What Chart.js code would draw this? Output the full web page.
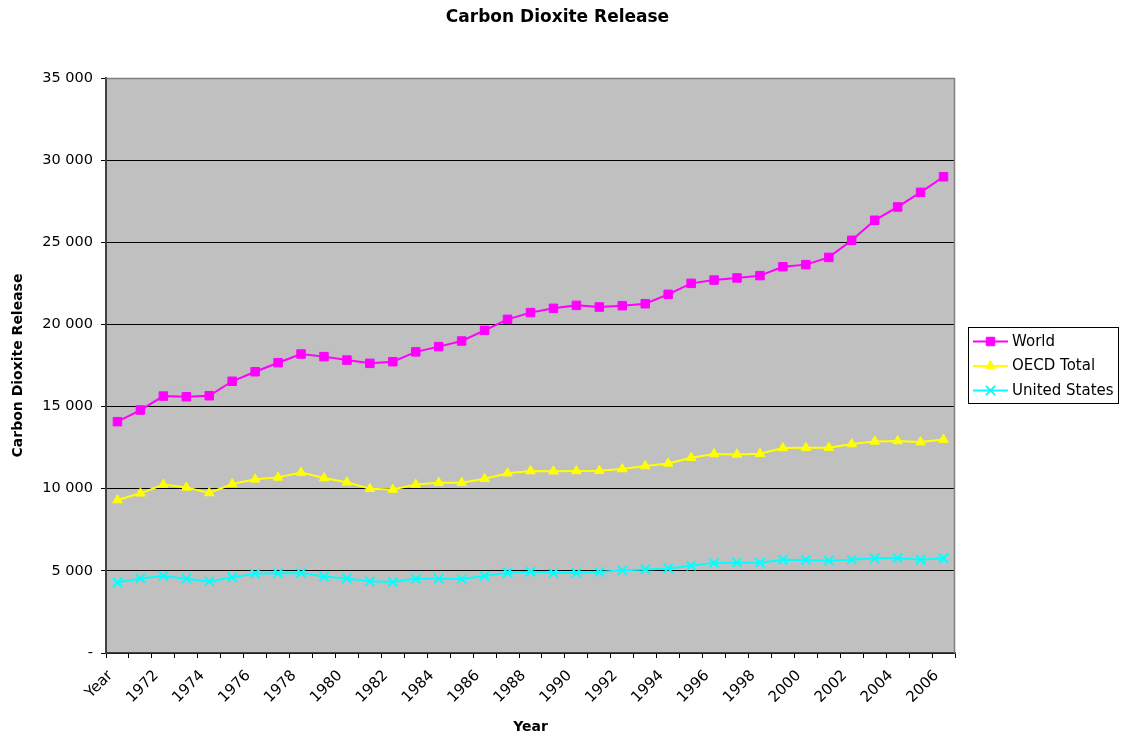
<!DOCTYPE html>
<html>
<head>
<meta charset="utf-8">
<title>Carbon Dioxite Release</title>
<script src="https://cdn.jsdelivr.net/npm/chart.js@4.4.1/dist/chart.umd.min.js"></script>
<style>
  html, body { margin: 0; padding: 0; background: #ffffff; }
  #wrap { width: 1122px; height: 740px; position: relative; }
</style>
</head>
<body>
<div id="wrap"><canvas id="c" width="1122" height="740"></canvas></div>
<script>
// Categories along the x axis
const categories = ['Year', '1971', '1972', '1973', '1974', '1975', '1976', '1977', '1978', '1979',
  '1980', '1981', '1982', '1983', '1984', '1985', '1986', '1987', '1988', '1989',
  '1990', '1991', '1992', '1993', '1994', '1995', '1996', '1997', '1998', '1999',
  '2000', '2001', '2002', '2003', '2004', '2005', '2006'];

// Series values
const world = [14080, 14790, 15640, 15600, 15660, 16540, 17120, 17670, 18200, 18040,
  17830, 17630, 17730, 18330, 18650, 18990, 19640, 20310, 20720, 20980,
  21160, 21060, 21140, 21260, 21830, 22500, 22700, 22830, 22970, 23510,
  23640, 24080, 25120, 26340, 27150, 28040, 28990];

const oecdTotal = [9310, 9720, 10250, 10080, 9740, 10290, 10570, 10690, 10980, 10650,
  10390, 10000, 9950, 10250, 10370, 10370, 10610, 10940, 11080, 11060,
  11080, 11100, 11200, 11380, 11540, 11890, 12110, 12090, 12130, 12480,
  12500, 12500, 12720, 12880, 12900, 12840, 12990];

const unitedStates = [4300, 4540, 4690, 4520, 4360, 4610, 4830, 4850, 4870, 4650,
  4540, 4360, 4320, 4520, 4520, 4500, 4690, 4890, 4950, 4870,
  4870, 4930, 5030, 5090, 5150, 5310, 5480, 5500, 5500, 5680,
  5660, 5620, 5680, 5760, 5780, 5680, 5760];

// Value axis tick values
const yTickValues = [0, 5000, 10000, 15000, 20000, 25000, 30000, 35000];

const chartTitle = 'Carbon Dioxite Release';

const FONT = "'DejaVu Sans', 'Liberation Sans', Arial, sans-serif";

function formatThousands(v) {
  if (v === 0) return '-';
  return String(v).replace(/\B(?=(\d{3})+(?!\d))/g, ' ');
}

// Grey plot background, frame and the page title
const plotBackground = {
  id: 'plotBackground',
  beforeDraw(chart) {
    const { ctx, chartArea: a } = chart;
    ctx.save();
    ctx.fillStyle = '#C0C0C0';
    ctx.fillRect(a.left, a.top, a.right - a.left, a.bottom - a.top);
    ctx.fillStyle = '#000000';
    ctx.font = 'bold 17px ' + FONT;
    ctx.textAlign = 'center';
    ctx.textBaseline = 'middle';
    ctx.fillText(chartTitle, 557.5, 18);
    ctx.restore();
  },
  afterDatasetsDraw(chart) {
    const { ctx, chartArea: a } = chart;
    ctx.save();
    ctx.strokeStyle = '#808080';
    ctx.lineWidth = 1.5;
    ctx.beginPath();
    ctx.moveTo(a.left, a.top + 0.5);
    ctx.lineTo(a.right - 0.5, a.top + 0.5);
    ctx.lineTo(a.right - 0.5, a.bottom);
    ctx.stroke();
    ctx.restore();
  }
};

// Boxed legend to the right of the plot
const sideLegend = {
  id: 'sideLegend',
  afterDraw(chart) {
    const { ctx } = chart;
    const box = { x: 968.5, y: 327.5, w: 150, h: 76 };
    ctx.save();
    ctx.fillStyle = '#ffffff';
    ctx.fillRect(box.x, box.y, box.w, box.h);
    ctx.strokeStyle = '#000000';
    ctx.lineWidth = 1;
    ctx.strokeRect(box.x, box.y, box.w, box.h);
    const rowYs = [341.5, 366, 390.5];
    chart.data.datasets.forEach((ds, i) => {
      const y = rowYs[i];
      ctx.strokeStyle = ds.borderColor;
      ctx.lineWidth = 2;
      ctx.beginPath();
      ctx.moveTo(973, y);
      ctx.lineTo(1008, y);
      ctx.stroke();
      ctx.fillStyle = ds.pointBackgroundColor;
      ctx.strokeStyle = ds.pointBorderColor;
      ctx.lineWidth = ds.pointBorderWidth;
      Chart.helpers.drawPoint(ctx, {
        pointStyle: ds.pointStyle,
        rotation: 0,
        radius: ds.pointRadius,
        borderWidth: ds.pointBorderWidth
      }, 990.5, y);
      ctx.fillStyle = '#000000';
      ctx.font = '15px ' + FONT;
      ctx.textAlign = 'left';
      ctx.textBaseline = 'middle';
      ctx.fillText(ds.label, 1012, y + 0.5);
    });
    ctx.restore();
  }
};

new Chart(document.getElementById('c'), {
  type: 'line',
  data: {
    labels: categories,
    datasets: [
      {
        label: 'World',
        data: world,
        borderColor: '#FF00FF',
        backgroundColor: '#FF00FF',
        borderWidth: 2,
        pointStyle: 'rect',
        pointRadius: 6,
        pointBackgroundColor: '#FF00FF',
        pointBorderColor: '#FF00FF',
        pointBorderWidth: 1,
        tension: 0
      },
      {
        label: 'OECD Total',
        data: oecdTotal,
        borderColor: '#FFFF00',
        backgroundColor: '#FFFF00',
        borderWidth: 2,
        pointStyle: 'triangle',
        pointRadius: 5.5,
        pointBackgroundColor: '#FFFF00',
        pointBorderColor: '#FFFF00',
        pointBorderWidth: 1,
        tension: 0
      },
      {
        label: 'United States',
        data: unitedStates,
        borderColor: '#00FFFF',
        backgroundColor: '#00FFFF',
        borderWidth: 2,
        pointStyle: 'crossRot',
        pointRadius: 6.5,
        pointBackgroundColor: '#00FFFF',
        pointBorderColor: '#00FFFF',
        pointBorderWidth: 2,
        tension: 0
      }
    ]
  },
  options: {
    responsive: false,
    animation: false,
    devicePixelRatio: 1,
    layout: { padding: { left: 6, right: 167, top: 78, bottom: 0 } },
    plugins: {
      legend: { display: false },
      tooltip: { enabled: false },
      title: { display: false }
    },
    scales: {
      x: {
        offset: true,
        afterFit(scale) { scale.height = 87; },
        grid: {
          offset: true,
          drawOnChartArea: false,
          drawTicks: true,
          tickLength: 5,
          tickColor: '#000000'
        },
        border: { color: '#404040', width: 1.5 },
        ticks: {
          autoSkip: false,
          maxRotation: 45,
          minRotation: 45,
          padding: 9,
          labelOffset: -7,
          color: '#000000',
          font: { family: FONT, size: 15 },
          callback(value, index) {
            return index % 2 === 0 ? categories[index] : '';
          }
        },
        title: {
          display: true,
          text: 'Year',
          color: '#000000',
          font: { family: FONT, size: 14, weight: 'bold' },
          padding: { top: 4, bottom: 4 }
        }
      },
      y: {
        min: 0,
        max: 35000,
        afterFit(scale) { scale.width = 100; },
        afterBuildTicks(scale) {
          scale.ticks = yTickValues.map(v => ({ value: v }));
        },
        grid: {
          color: '#000000',
          lineWidth: 1,
          drawTicks: true,
          tickLength: 5,
          tickColor: '#000000'
        },
        border: { color: '#404040', width: 2 },
        ticks: {
          padding: 8,
          color: '#000000',
          font: { family: FONT, size: 14.5 },
          callback(value) { return formatThousands(value); }
        },
        title: {
          display: true,
          text: 'Carbon Dioxite Release',
          color: '#000000',
          font: { family: FONT, size: 14, weight: 'bold' },
          padding: { top: 4, bottom: 4 }
        }
      }
    }
  },
  plugins: [plotBackground, sideLegend]
});
</script>
</body>
</html>
